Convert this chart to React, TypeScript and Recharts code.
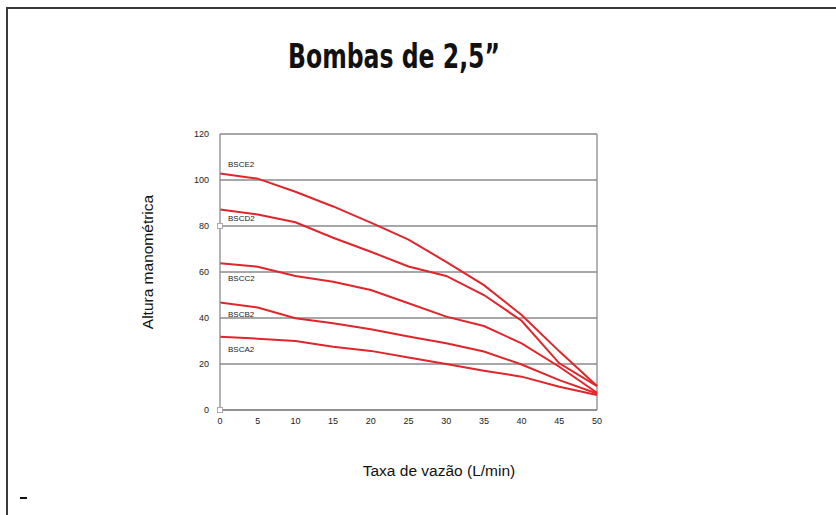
import React from 'react'
import { LineChart, Line, XAxis, YAxis, CartesianGrid, ReferenceLine, ReferenceDot, LabelList } from 'recharts'

// vazão (L/min)
const flow = [0, 5, 10, 15, 20, 25, 30, 35, 40, 45, 50]
const yTicks = [0, 20, 40, 60, 80, 100, 120]

// altura manométrica por modelo
const bsce2 = [102.8, 100.6, 94.9, 88.5, 81.5, 74.1, 64.4, 54.3, 41.3, 25.5, 10.4]
const bscd2 = [87.2, 85.0, 81.6, 74.9, 68.8, 62.4, 58.3, 50.0, 38.8, 20.3, 10.4]
const bscc2 = [63.8, 62.3, 58.3, 55.8, 52.2, 46.4, 40.6, 36.5, 29.0, 18.8, 7.5]
const bscb2 = [46.7, 44.6, 39.9, 37.7, 35.1, 32.0, 29.0, 25.4, 19.8, 13.0, 7.2]
const bsca2 = [31.9, 31.0, 30.0, 27.5, 25.7, 22.8, 20.0, 17.1, 14.5, 10.1, 6.5]

const models = ['BSCE2', 'BSCD2', 'BSCC2', 'BSCB2', 'BSCA2']
const series = [bsce2, bscd2, bscc2, bscb2, bsca2]
// deslocamento vertical do rótulo em relação ao primeiro ponto
const labelDy = [-7, 12, 18, 14, 15]
// marcadores quadrados no eixo
const axisMarks = [0, 80]

const data = flow.map((q, i) => {
  const row: Record<string, number> = { q }
  models.forEach((m, k) => {
    row[m] = series[k][i]
  })
  return row
})

const RED = '#e0252b'
const GRID = '#8a8a8a'

function ModelLabel({ x, y, index, name, dy }: any) {
  if (index !== 0) return null
  return (
    <text x={x + 8} y={y + dy} fontSize={8} fill="#222" fontFamily="Liberation Sans, Arial, sans-serif">
      {name}
    </text>
  )
}

function SquareMark({ cx, cy }: any) {
  return <rect x={cx - 2.5} y={cy - 2.5} width={5} height={5} fill="#fff" stroke="#aaa" strokeWidth={1} />
}

export default function App() {
  return (
    <div style={{ position: 'absolute', left: 0, top: 0, width: 836, height: 515, overflow: 'hidden', background: '#fff', fontFamily: 'Liberation Sans, Arial, sans-serif' }}>
      <div style={{ position: 'absolute', left: 6, top: 7, width: 900, height: 600, border: '2px solid #3a3a3a', boxSizing: 'border-box' }} />
      <div style={{ position: 'absolute', left: 20, top: 497, width: 7, height: 2, background: '#111' }} />

      <svg width={836} height={100} style={{ position: 'absolute', left: 0, top: 0 }}>
        <text
          x={288}
          y={68}
          fontSize={34}
          fontWeight="bold"
          fontFamily="DejaVu Sans Condensed, Liberation Sans Narrow, sans-serif"
          textLength={212}
          lengthAdjust="spacingAndGlyphs"
          fill="#111"
        >
          Bombas de 2,5”
        </text>
      </svg>

      <LineChart
        width={836}
        height={515}
        data={data}
        margin={{ top: 134, right: 239, bottom: 75, left: 190 }}
        style={{ position: 'absolute', left: 0, top: 0 }}
      >
        <CartesianGrid vertical={false} stroke={GRID} strokeWidth={1.3} />
        <XAxis
          dataKey="q"
          type="number"
          domain={[0, 50]}
          ticks={flow}
          axisLine={{ stroke: GRID, strokeWidth: 1.3 }}
          tickLine={false}
          tick={{ fontSize: 9, fill: '#222' }}
          tickMargin={2}
          height={30}
        />
        <YAxis
          type="number"
          domain={[0, 120]}
          ticks={yTicks}
          axisLine={{ stroke: GRID, strokeWidth: 1.3 }}
          tickLine={false}
          tick={{ fontSize: 9, fill: '#222' }}
          tickMargin={5}
          width={30}
        />
        <ReferenceLine x={50} stroke={GRID} strokeWidth={1.3} />
        {models.map((m, k) => (
          <Line
            key={m}
            type="linear"
            dataKey={m}
            stroke={RED}
            strokeWidth={2}
            dot={false}
            activeDot={false}
            isAnimationActive={false}
          >
            <LabelList dataKey={m} content={(p: any) => <ModelLabel {...p} name={m} dy={labelDy[k]} />} />
          </Line>
        ))}
        {axisMarks.map((v) => (
          <ReferenceDot key={v} x={0} y={v} r={3} shape={SquareMark} ifOverflow="visible" />
        ))}
      </LineChart>

      <div style={{ position: 'absolute', left: 148, top: 262, transform: 'translate(-50%, -50%) rotate(-90deg)', fontSize: 15.5, color: '#111', whiteSpace: 'nowrap' }}>
        Altura manométrica
      </div>
      <div style={{ position: 'absolute', left: 439, top: 471, transform: 'translate(-50%, -50%)', fontSize: 15.5, color: '#111', whiteSpace: 'nowrap' }}>
        Taxa de vazão (L/min)
      </div>
    </div>
  )
}
